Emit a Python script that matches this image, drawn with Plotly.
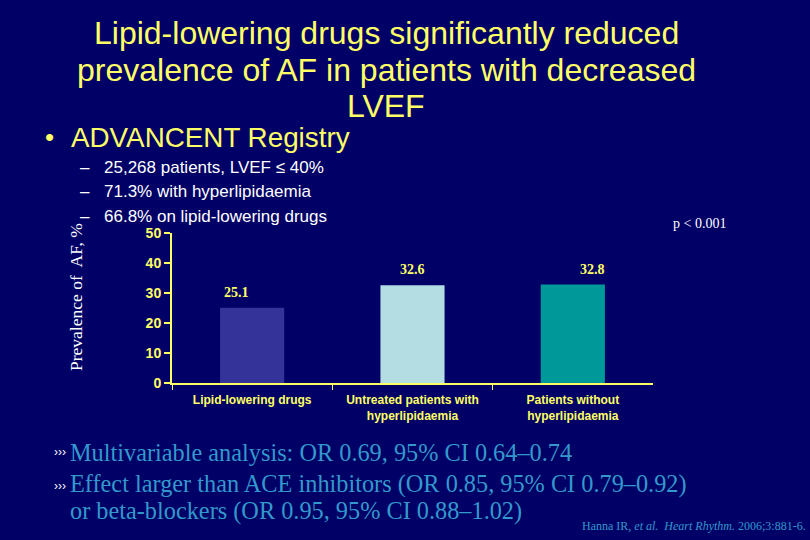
import plotly.graph_objects as go

categories = ["Lipid-lowering drugs", "Untreated patients with<br>hyperlipidaemia", "Patients without<br>hyperlipidaemia"]
values = [25.1, 32.6, 32.8]
value_labels = ["25.1", "32.6", "32.8"]
label_shift = [-16, 0, 20]
bar_colors = ["#333399", "#B3DDE3", "#009999"]
y_ticks = [0, 10, 20, 30, 40, 50]

BG = "#000066"
YEL = "#FFFF66"

fig = go.Figure()
fig.add_trace(go.Bar(x=categories, y=values, marker=dict(color=bar_colors, line=dict(width=0)),
                     width=0.4, hoverinfo="skip"))

for c, v, t, s in zip(categories, values, value_labels, label_shift):
    fig.add_annotation(x=c, y=v, text="<b>" + t + "</b>", showarrow=False, yanchor="bottom", yshift=6,
                       xshift=s, font=dict(family="Liberation Serif", size=14, color=YEL))

fig.update_layout(
    width=810, height=540, margin=dict(l=0, r=0, t=0, b=0, autoexpand=False),
    paper_bgcolor=BG, plot_bgcolor=BG, showlegend=False, bargap=0.6,
    xaxis=dict(domain=[172/810, 653/810], showline=True, linecolor=YEL, linewidth=2,
               ticks="outside", tickson="boundaries", ticklen=5, tickcolor=YEL, tickwidth=1,
               ticklabelstandoff=5,
               tickfont=dict(family="Liberation Sans", size=12, color=YEL, weight="bold"),
               showgrid=False, zeroline=False, automargin=False),
    yaxis=dict(domain=[1-383/540, 1-233/540], range=[0, 50], tickvals=y_ticks, showline=True,
               linecolor=YEL, linewidth=2, ticks="outside", ticklen=6, tickcolor=YEL, tickwidth=2,
               tickfont=dict(family="Liberation Sans", size=14, color=YEL, weight="bold"),
               showgrid=False, zeroline=False, automargin=False),
)

def txt(x, y, text, size, color, family="Liberation Sans", xanchor="left", **kw):
    fig.add_annotation(x=x, y=y, xref="paper", yref="paper", text=text, showarrow=False,
                       xanchor=xanchor, yanchor="middle", align="left",
                       font=dict(family=family, size=size, color=color), **kw)

# title, one annotation per line
for i, line in enumerate(["Lipid-lowering drugs significantly reduced",
                          "prevalence of AF in patients with decreased", "LVEF"]):
    txt(386/810, 1-(33+36.5*i)/540, line, 32, YEL, xanchor="center")

txt(43/810, 1-137/540, "•", 26, YEL)
txt(69/810, 1-137/540, "ADVANCENT Registry", 27.8, YEL)
for i, s in enumerate(["25,268 patients, LVEF ≤ 40%", "71.3% with hyperlipidaemia", "66.8% on lipid-lowering drugs"]):
    txt(78/810, 1-(167+24.5*i)/540, "–", 17, "#FFFFFF")
    txt(102/810, 1-(167+24.5*i)/540, s, 17, "#FFFFFF")

txt(671/810, 1-224/540, "p &lt; 0.001", 14, "#FFFFFF", family="Liberation Serif")

fig.add_annotation(x=76/810, y=1-297/540, xref="paper", yref="paper", text="Prevalence of  AF, %",
                   showarrow=False, textangle=-90, xanchor="center", yanchor="middle",
                   font=dict(family="Liberation Serif", size=17.5, color="#FFFFFF"))

BL = "#3399CC"
txt(52/810, 1-452/540, "›››", 12, "#FFFFFF")
txt(52/810, 1-486/540, "›››", 12, "#FFFFFF")
txt(68/810, 1-452/540, "Multivariable analysis: OR 0.69, 95% CI 0.64–0.74", 24.3, BL, family="Liberation Serif")
txt(68/810, 1-484/540, "Effect larger than ACE inhibitors (OR 0.85, 95% CI 0.79–0.92)", 24.3, BL, family="Liberation Serif")
txt(68/810, 1-511/540, "or beta-blockers (OR 0.95, 95% CI 0.88–1.02)", 24.3, BL, family="Liberation Serif")
txt(580/810, 1-526/540, "Hanna IR, <i>et al.</i>  <i>Heart Rhythm.</i> 2006;3:881-6.", 12, BL, family="Liberation Serif")

fig.write_html("out.html", config={"displayModeBar": False},
               post_script="document.documentElement.style.margin='0';document.body.style.margin='0';document.body.style.padding='0';document.body.style.overflow='hidden';")
